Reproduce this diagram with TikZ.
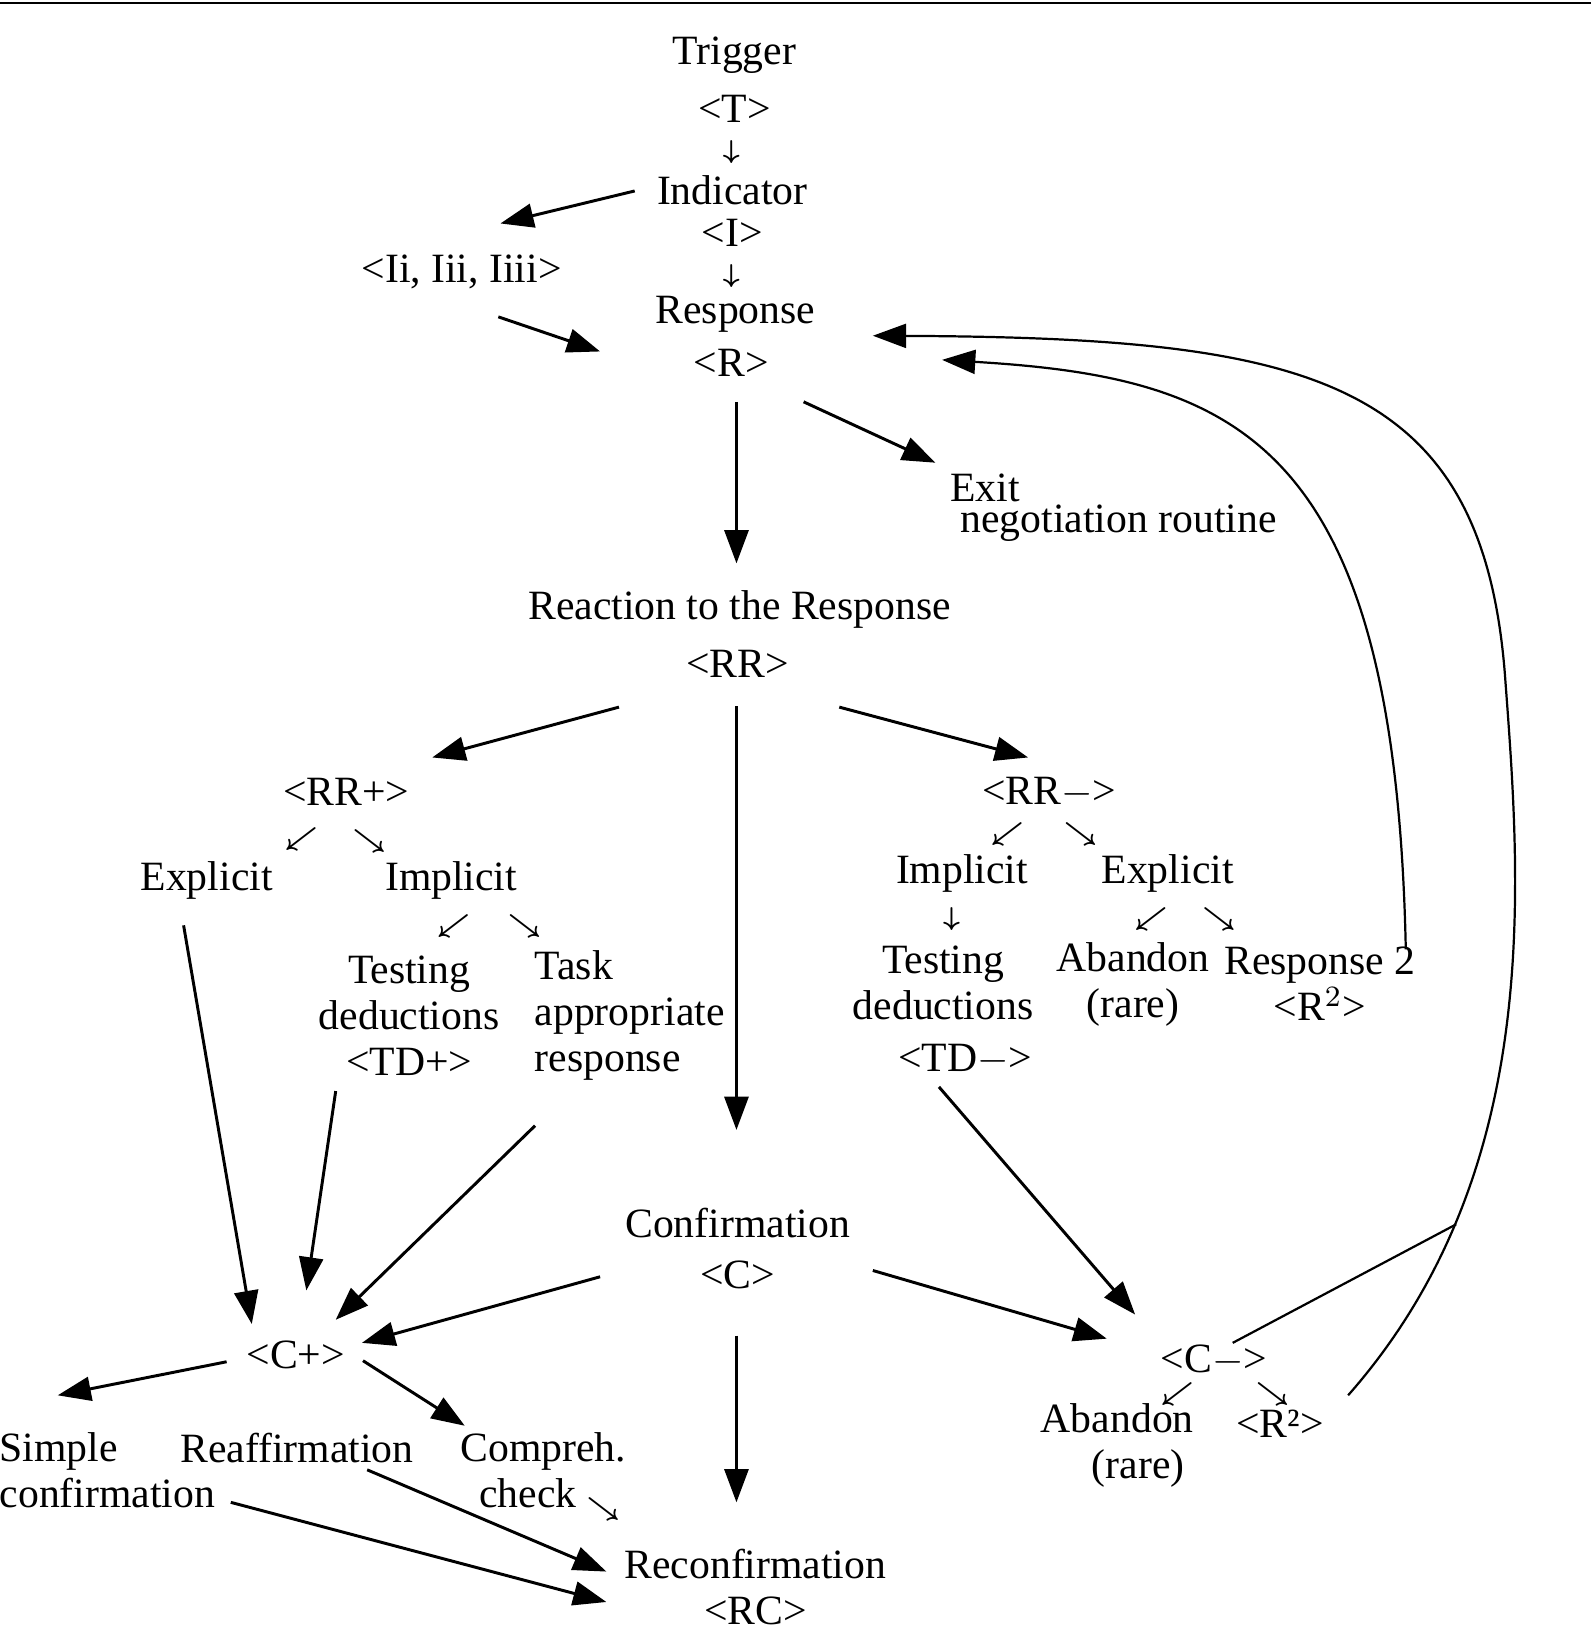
\documentclass[tikz,border=0pt]{standalone}
\usepackage{fontspec}
\setmainfont{Liberation Serif}
\usetikzlibrary{positioning,arrows.meta}

\begin{document}
\begin{tikzpicture}[x=0.01cm,y=-0.01cm,
    lbl/.style={
        font=\fontsize{11.3}{14.5}\selectfont, inner sep=2pt, align=center,
    },
    sym/.style={
        font=\fontsize{7.5}{9}\selectfont\boldmath, inner sep=0pt,
    },
    arrow/.style={
        -{Triangle[length=9pt,width=6.5pt]}, line width=.8pt,
    },
    loop_line/.style={
        line width=.6pt,
    }
]
    \useasboundingbox (0,0) rectangle (1517,1568);
    \draw[line width=.5pt] (0,3) -- (1517,3);

    % top chain
    \node[lbl] at (700,53) (trig){Trigger};
    \node[lbl] at (700,104) (t){<T>};
    \node[sym] at (697,145) {$\downarrow$};
    \node[lbl] at (698,181) (ind){Indicator};
    \node[lbl] at (698,222) (i){<I>};
    \node[sym] at (697,263) {$\downarrow$};
    \node[lbl] at (701,300) (resp){Response};
    \node[lbl] at (697,346) (r){<R>};
    \node[lbl] at (440,259) (iii){<Ii, Iii, Iiii>};
    \node[lbl,align=left,anchor=north west] at (898,444) (exit){Exit\\[-6pt]\ negotiation routine};

    \coordinate (a1) at (605,182); \coordinate (a2) at (477,213);
    \coordinate (a3) at (475,302); \coordinate (a4) at (572,335);
    \draw[arrow] (a1) -- (a2);
    \draw[arrow] (a3) -- (a4);
    \draw[arrow] (702,383) coordinate (rs) -- (702,537) coordinate (rrt);
    \draw[arrow,shorten >=2pt] (766,383) coordinate (rx) -- (exit.north west);

    % reaction
    \node[lbl] at (705,581) (react){Reaction to the Response};
    \node[lbl] at (703,633) (rr){<RR>};
    \node[lbl] at (330,755) (rrp){<RR+>};
    \node[lbl] at (1000,755) (rrm){<RR$-$>};
    \node[sym] at (287,800) {$\swarrow$};
    \node[sym] at (352,802) {$\searrow$};
    \node[lbl] at (197,839) (explp){Explicit};
    \node[lbl] at (430,839) (implp){Implicit};
    \node[sym] at (432,883) {$\swarrow$};
    \node[sym] at (500,883) {$\searrow$};
    \node[lbl] at (390,968) (tdp){Testing\\[-2pt]deductions\\[-2pt]<TD+>};
    \node[lbl,align=left,anchor=west] at (502,968) (task){Task\\[-2pt]appropriate\\[-2pt]response};

    \node[sym] at (960,795) {$\swarrow$};
    \node[sym] at (1030,795) {$\searrow$};
    \node[lbl] at (917,833) (implm){Implicit};
    \node[lbl] at (1113,833) (explm){Explicit};
    \node[sym] at (907,876) {$\downarrow$};
    \node[sym] at (1097,876) {$\swarrow$};
    \node[sym] at (1162,876) {$\searrow$};
    \node[lbl] at (899,937) (tdm){Testing\\[-2pt]deductions};
    \node[lbl] at (920,1010) (tdmx){<TD$-$>};
    \node[lbl] at (1080,938) (aban1){Abandon\\[-2pt](rare)};
    \node[lbl] at (1258,938) (resp2){Response 2\\[-2pt]<R$^{2}$>};

    \draw[arrow] (590,674) -- (412,722);
    \draw[arrow] (702,673) -- (702,1077);
    \draw[arrow] (800,674) -- (980,722);

    % confirmation
    \node[lbl] at (703,1166) (conf){Confirmation};
    \node[lbl] at (703,1215) (c){<C>};
    \node[lbl] at (282,1291) (cp){<C+>};
    \node[lbl] at (1157,1297) (cm){<C$-$>};
    \node[sym] at (1122,1329) {$\swarrow$};
    \node[sym] at (1213,1329) {$\searrow$};
    \node[lbl] at (1065,1378) (aban2){Abandon\\[-2pt]\ \ \ \ (rare)};
    \node[lbl] at (1220,1357) (r2){<R²>};

    \draw[arrow] (175,882) -- (240,1262);
    \draw[arrow] (320,1040) -- (292,1230);
    \draw[arrow] (510,1073) -- (320,1258);
    \draw[arrow] (895,1036) -- (1082,1253);
    \draw[arrow] (572,1217) -- (345,1280);
    \draw[arrow] (832,1211) -- (1055,1276);
    \draw[arrow] (702,1273) -- (702,1432);

    % bottom row
    \node[lbl,align=left,anchor=west] at (-8,1401) (simple){Simple\\[-2pt]confirmation};
    \node[lbl] at (518,1401) (compr){Compreh.\\[-2pt]check\ \ \ \ };
    \node[lbl] at (283,1380) (reaff){Reaffirmation};
    \node[sym] at (575,1438) {$\searrow$};
    \node[lbl] at (720,1513) (rc){Reconfirmation\\[-2pt]<RC>};

    \draw[arrow] (216,1298) -- (55,1330);
    \draw[arrow] (346,1297) -- (443,1359);
    \draw[arrow] (350,1401) -- (578,1498);
    \draw[arrow] (220,1432) -- (578,1527);

    % loops back to the response
    \draw[arrow,line width=.6pt] (1340,905) .. controls (1330,420) and (1180,360) .. (898,343);
    \draw[arrow,line width=.6pt] (1285,1330) .. controls (1470,1120) and (1450,850) .. (1435,650)
        .. controls (1415,360) and (1250,322) .. (832,320);
    \draw[loop_line] (1175,1280) -- (1388,1167);
\end{tikzpicture}
\end{document}
